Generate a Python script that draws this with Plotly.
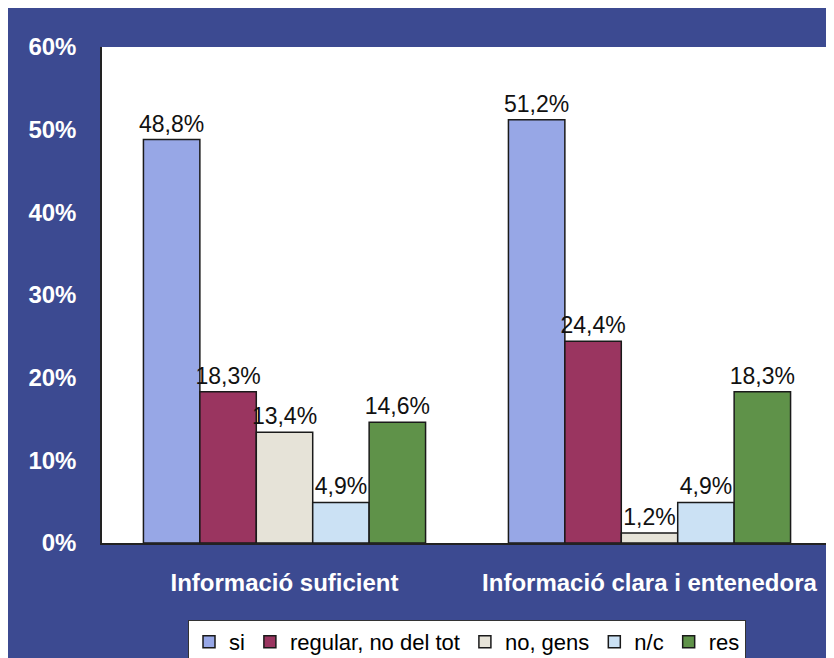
import plotly.graph_objects as go

categories = ["Informació suficient", "Informació clara i entenedora"]
series_names = ["si", "regular, no del tot", "no, gens", "n/c", "res"]
si_vals = [48.8, 51.2]
regular_vals = [18.3, 24.4]
no_gens_vals = [13.4, 1.2]
nc_vals = [4.9, 4.9]
res_vals = [14.6, 18.3]
y_ticks = [0, 10, 20, 30, 40, 50, 60]
y_tick_labels = ["0%", "10%", "20%", "30%", "40%", "50%", "60%"]

series_values = [si_vals, regular_vals, no_gens_vals, nc_vals, res_vals]
colors = ["#97A7E6", "#9A3560", "#E6E3D8", "#CBE1F4", "#5F9249"]

BG = "#3C4A91"
FONT = "Liberation Sans, Arial, sans-serif"

fig = go.Figure()
for name, vals, col in zip(series_names, series_values, colors):
    fig.add_trace(go.Bar(
        x=categories, y=vals, name=name,
        marker=dict(color=col, line=dict(color="#1a1a1a", width=1.5)),
        texttemplate="%{y:.1f}%", textposition="outside",
        textfont=dict(family=FONT, size=23, color="#111111"),
        constraintext="none", cliponaxis=False,
    ))

fig.update_layout(
    width=834, height=658,
    separators=",.",
    barmode="group", bargap=0.227, bargroupgap=0,
    paper_bgcolor=BG, plot_bgcolor="white",
    margin=dict(l=94, r=10, t=39, b=123, autoexpand=False),
    font=dict(family=FONT, size=23, color="white"),
    showlegend=True,
    legend=dict(
        orientation="h", x=0.5, xanchor="center", y=-0.155, yanchor="top",
        bgcolor="white", bordercolor="#333333", borderwidth=1,
        font=dict(family=FONT, size=22, color="black"),
        itemwidth=30, tracegroupgap=0,
    ),
    xaxis=dict(
        showline=True, linecolor="#222222", linewidth=1.5,
        ticks="", ticklabelstandoff=17,
        tickfont=dict(family=FONT, size=24, color="white", weight="bold"),
        showgrid=False,
    ),
    yaxis=dict(
        range=[0, 60], tickmode="array", tickvals=y_ticks, ticktext=y_tick_labels,
        showline=True, linecolor="#222222", linewidth=1.5,
        showgrid=False, zeroline=False,
        ticks="", ticklabelstandoff=19,
        tickfont=dict(family=FONT, size=24, color="white", weight="bold"),
    ),
)

fig.write_html("out.html")
